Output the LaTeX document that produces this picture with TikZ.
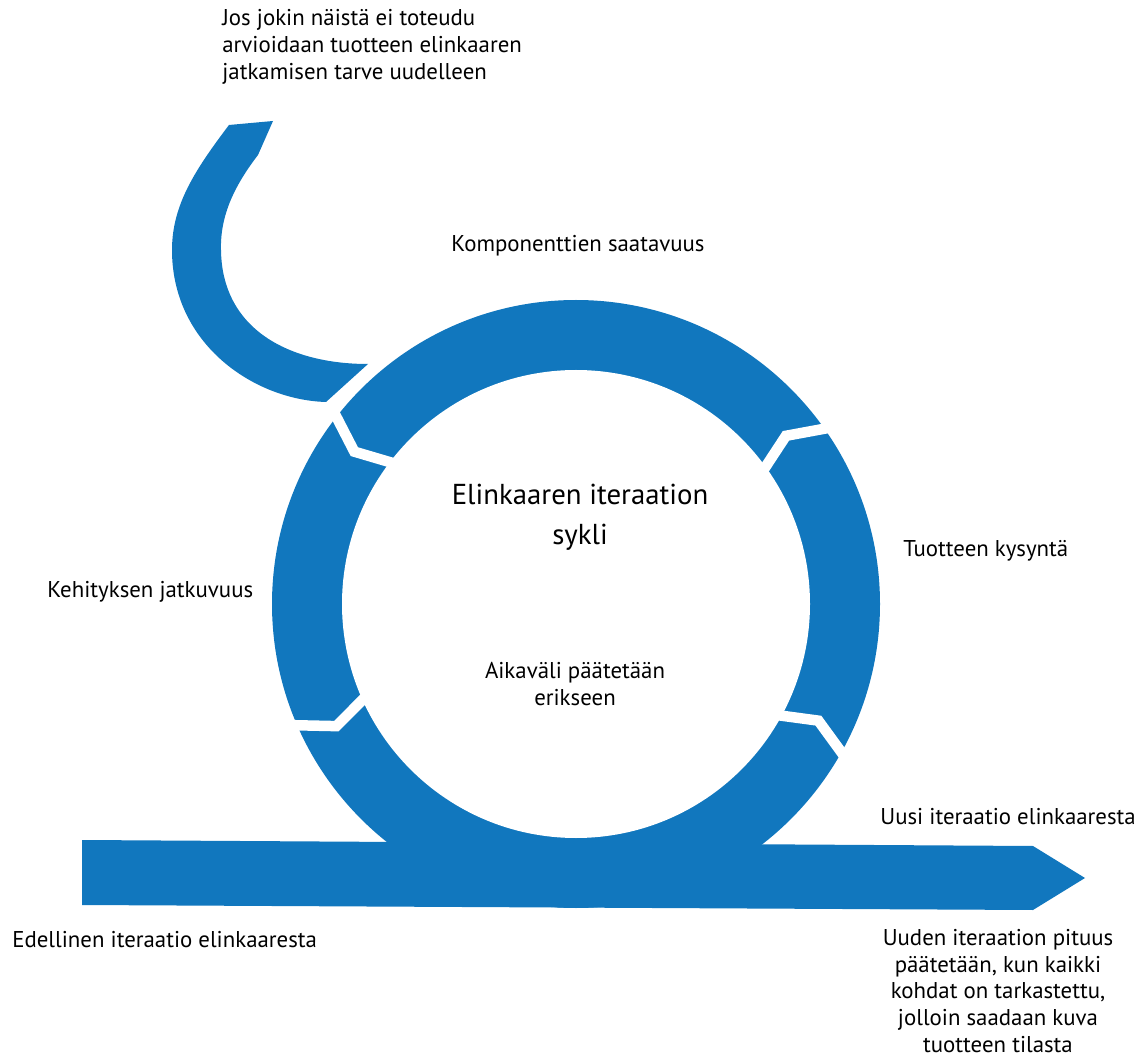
\documentclass[tikz,border=0pt]{standalone}
\usepackage{fontspec}
\setmainfont{PT Sans}
\usetikzlibrary{calc}
\definecolor{cycleblue}{RGB}{17,119,190}

\begin{document}
\begin{tikzpicture}[x=0.02cm, y=0.02cm, font=\fontsize{13}{15.2}\selectfont,
  band/.style={fill=cycleblue, draw=none},
  gap/.style={draw=white, line width=0.21cm, line join=miter, miter limit=10},
  lbl/.style={inner sep=0pt, align=left},
  mid/.style={inner sep=0pt, align=center},
  title/.style={inner sep=0pt, align=center, font=\fontsize{16.4}{22.5}\selectfont}]

  \useasboundingbox (0,0) rectangle (1140,-1057);
  \coordinate (c) at (576,-604);

  % ring and the arrow running under it
  \fill[band] (c) circle (304);
  \fill[band] (82,-840) -- (1033,-846) -- (1085,-878) -- (1033,-910) -- (82,-905) -- cycle;
  \fill[white] (c) circle (234);

  % cuts between the phases
  \foreach \a in {141.5, 203, 34.7, -29.7}
    \draw[gap] ([shift={(\a:310)}]c) -- ([shift={(\a+4:269)}]c) -- ([shift={(\a:222)}]c);

  % hook leaving the cycle
  \fill[band] (326,-402) .. controls (255,-400) and (172,-345) .. (172,-250)
    .. controls (172,-205) and (195,-170) .. (229,-125)
    -- (273,-121) -- (258,-155)
    .. controls (235,-185) and (220,-215) .. (221,-250)
    .. controls (222,-330) and (290,-364) .. (368,-364) -- cycle;

  \node[lbl, anchor=west] (ifnot) at (222,-47)
    {Jos jokin näistä ei toteudu\\arvioidaan tuotteen elinkaaren\\jatkamisen tarve uudelleen};
  \node[mid] (comp) at (578,-246) {Komponenttien saatavuus};
  \node[title] (cycle) at (580,-517) {Elinkaaren iteraation\\sykli};
  \node[lbl, anchor=west] (demand) at (903,-551) {Tuotteen kysyntä};
  \node[lbl, anchor=west] (devel) at (47,-592) {Kehityksen jatkuvuus};
  \node[mid] (period) at (575,-684) {Aikaväli päätetään\\erikseen};
  \node[lbl, anchor=west] (next) at (880,-817) {Uusi iteraatio elinkaaresta};
  \node[lbl, anchor=west] (prev) at (12,-940) {Edellinen iteraatio elinkaaresta};
  \node[mid] (length) at (998,-991)
    {Uuden iteraation pituus\\päätetään, kun kaikki\\kohdat on tarkastettu,\\jolloin saadaan kuva\\tuotteen tilasta};
\end{tikzpicture}
\end{document}
